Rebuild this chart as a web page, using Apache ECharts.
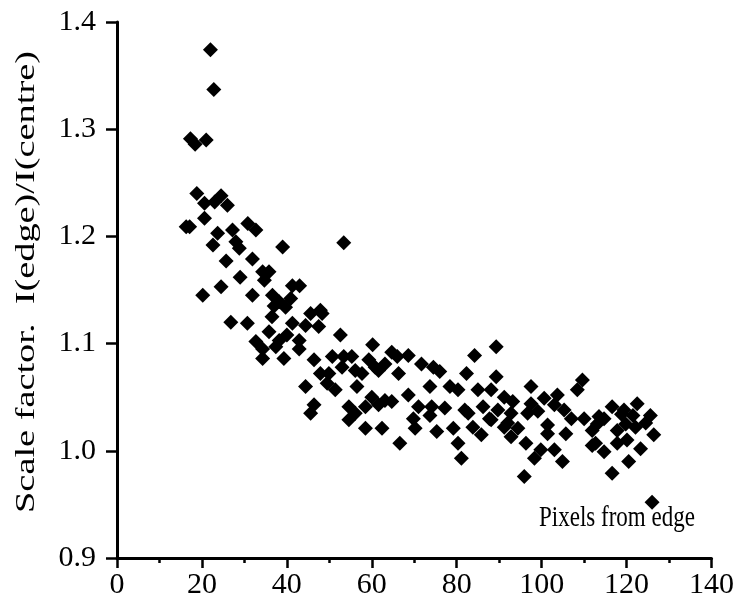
<!DOCTYPE html>
<html>
<head>
<meta charset="utf-8">
<script src="https://cdn.jsdelivr.net/npm/echarts@6/dist/echarts.min.js"></script>
<style>
  html, body { margin: 0; padding: 0; background: #ffffff; }
  #chart { width: 737px; height: 613px; }
</style>
</head>
<body>
<div id="chart"></div>
<script>
// ---- data (pixels from edge, scale factor) ----
const pixelsFromEdge = [
  22.0, 22.8, 17.3, 18.4, 21.0, 18.8, 20.6, 23.0, 24.5, 26.0,
  20.6, 16.3, 17.1, 23.7, 22.6, 27.2, 28.0, 28.8, 30.8, 32.7,
  39.0, 25.7, 31.9, 29.0, 34.3, 35.8, 34.7, 24.5, 20.2, 31.9,
  36.6, 41.3, 40.9, 39.7, 38.2, 26.8, 30.7, 41.3, 45.6, 47.9,
  48.3, 44.4, 47.5, 35.8, 52.6, 32.7, 38.2, 42.9, 34.3, 37.4,
  42.9, 34.3, 39.3, 46.4, 50.7, 53.4, 55.3, 60.2, 59.3, 47.9,
  49.9, 53.0, 56.1, 57.7, 60.8, 63.1, 49.5, 51.4, 44.4, 56.5,
  60.0, 63.1, 46.4, 45.6, 54.6, 56.1, 58.5, 53.4, 64.7, 68.6,
  71.7, 74.5, 84.2, 89.3, 61.6, 66.3, 82.3, 89.3, 73.7, 78.4,
  80.3, 85.0, 88.1, 91.2, 64.7, 68.6, 61.6, 71.0, 74.1, 77.2,
  81.9, 86.2, 89.7, 69.8, 73.7, 82.7, 87.7, 92.8, 58.5, 62.4,
  70.2, 75.3, 79.2, 83.8, 85.8, 91.2, 80.3, 66.6, 81.1, 54.6,
  97.5, 109.6, 108.4, 93.2, 97.5, 100.6, 103.7, 103.0, 105.3, 88.1,
  92.0, 96.7, 99.1, 94.4, 101.4, 101.4, 105.7, 110.0, 111.9, 92.8,
  96.3, 112.7, 99.8, 103.0, 98.3, 104.9, 95.9, 116.6, 122.5, 125.6,
  114.7, 119.8, 117.8, 122.1, 126.4, 111.9, 114.7, 117.8, 123.3, 120.5,
  116.6, 126.0, 119.4, 113.1, 120.1, 43.0, 76.0, 66.0, 40.0, 113.5,
  118.8, 121.5, 124.5, 107.0, 36.5, 37.0
];
const scaleFactor = [
  1.374, 1.337, 1.291, 1.286, 1.290, 1.240, 1.231, 1.232, 1.238, 1.229,
  1.217, 1.209, 1.209, 1.203, 1.192, 1.206, 1.195, 1.189, 1.212, 1.206,
  1.190, 1.177, 1.179, 1.162, 1.167, 1.167, 1.159, 1.153, 1.145, 1.145,
  1.145, 1.154, 1.142, 1.134, 1.139, 1.120, 1.119, 1.119, 1.128, 1.131,
  1.128, 1.117, 1.116, 1.111, 1.108, 1.102, 1.103, 1.103, 1.095, 1.097,
  1.095, 1.086, 1.086, 1.085, 1.088, 1.088, 1.088, 1.099, 1.085, 1.072,
  1.072, 1.078, 1.075, 1.072, 1.078, 1.081, 1.063, 1.057, 1.060, 1.060,
  1.050, 1.047, 1.043, 1.035, 1.041, 1.035, 1.041, 1.194, 1.092, 1.089,
  1.081, 1.078, 1.089, 1.097, 1.075, 1.072, 1.072, 1.069, 1.060, 1.060,
  1.057, 1.057, 1.057, 1.050, 1.046, 1.052, 1.043, 1.041, 1.041, 1.040,
  1.038, 1.041, 1.038, 1.030, 1.033, 1.035, 1.030, 1.035, 1.021, 1.021,
  1.021, 1.018, 1.021, 1.022, 1.015, 1.022, 1.007, 1.007, 0.993, 1.029,
  1.060, 1.066, 1.057, 1.046, 1.044, 1.049, 1.052, 1.043, 1.038, 1.029,
  1.026, 1.035, 1.037, 1.021, 1.024, 1.016, 1.016, 1.030, 1.019, 1.013,
  1.007, 1.007, 1.001, 1.001, 0.993, 0.990, 0.976, 1.041, 1.044, 1.033,
  1.030, 1.025, 1.019, 1.022, 1.015, 1.005, 0.999, 1.007, 1.002, 0.990,
  0.979, 0.952, 1.038, 1.025, 1.010, 1.154, 1.074, 1.088, 1.108, 1.032,
  1.034, 1.033, 1.026, 1.030, 1.125, 1.135
];
const xTickLabels = ['0', '20', '40', '60', '80', '100', '120', '140'];
const yTickLabels = ['0.9', '1.0', '1.1', '1.2', '1.3', '1.4'];
const xTitle = 'Pixels from edge';
const yTitle = 'Scale factor.  I(edge)/I(centre)';

const points = pixelsFromEdge.map((x, i) => [x, scaleFactor[i]]);

const FONT = '"Liberation Serif", "Times New Roman", serif';
const chart = echarts.init(document.getElementById('chart'), null, { renderer: 'canvas' });

chart.setOption({
  backgroundColor: '#ffffff',
  animation: false,
  grid: { left: 117, right: 22, top: 22, bottom: 55, containLabel: false },
  xAxis: {
    type: 'value',
    min: 0, max: 140, interval: 20,
    splitLine: { show: false },
    axisLine: { show: true, onZero: false, lineStyle: { color: '#000', width: 3 } },
    axisTick: { show: true, inside: false, length: 10, lineStyle: { color: '#000', width: 2.5 } },
    minorTick: { show: true, splitNumber: 2, length: 5, lineStyle: { color: '#000', width: 2.5 } },
    axisLabel: {
      color: '#000', fontFamily: FONT, fontSize: 30, margin: 12,
      formatter: v => xTickLabels[Math.round(v / 20)]
    }
  },
  yAxis: {
    type: 'value',
    min: 0.9, max: 1.4, interval: 0.1,
    splitLine: { show: false },
    axisLine: { show: true, onZero: false, lineStyle: { color: '#000', width: 3 } },
    axisTick: { show: true, inside: false, length: 11, lineStyle: { color: '#000', width: 2.5 } },
    axisLabel: {
      color: '#000', fontFamily: FONT, fontSize: 30, margin: 21,
      formatter: v => yTickLabels[Math.round((v - 0.9) / 0.1)]
    }
  },
  graphic: [{
    type: 'text',
    x: 539,
    y: 518,
    scaleY: 1.25,
    style: { text: xTitle, fill: '#000', font: '23px ' + FONT, align: 'left', verticalAlign: 'middle' }
  }, {
    type: 'text',
    x: 27,
    y: 282,
    rotation: Math.PI / 2,
    scaleX: 1.42,
    style: { text: yTitle, fill: '#000', font: '27px ' + FONT, align: 'center', verticalAlign: 'middle' }
  }],
  series: [{
    type: 'scatter',
    data: points,
    symbol: 'diamond',
    symbolSize: 15,
    itemStyle: { color: '#000', opacity: 1 }
  }]
});
</script>
</body>
</html>
